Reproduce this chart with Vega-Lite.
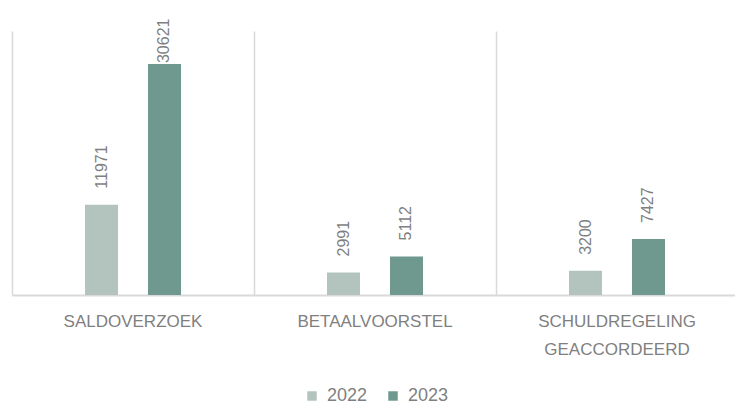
{
  "$schema": "https://vega.github.io/schema/vega-lite/v6.json",
  "autosize": "none",
  "width": 726,
  "height": 264,
  "padding": {"left": 12, "top": 31, "right": 0, "bottom": 112},
  "background": "white",
  "config": {
    "view": {"stroke": null},
    "font": "Liberation Sans"
  },
  "data": {
    "values": [
      {"categorie": "SALDOVERZOEK", "jaar": "2022", "aantal": 11971},
      {"categorie": "SALDOVERZOEK", "jaar": "2023", "aantal": 30621},
      {"categorie": "BETAALVOORSTEL", "jaar": "2022", "aantal": 2991},
      {"categorie": "BETAALVOORSTEL", "jaar": "2023", "aantal": 5112},
      {"categorie": "SCHULDREGELING GEACCORDEERD", "jaar": "2022", "aantal": 3200},
      {"categorie": "SCHULDREGELING GEACCORDEERD", "jaar": "2023", "aantal": 7427}
    ]
  },
  "encoding": {
    "x": {
      "field": "categorie",
      "type": "nominal",
      "sort": null,
      "scale": {"paddingInner": 0, "paddingOuter": 0},
      "axis": {
        "title": null,
        "ticks": false,
        "grid": true,
        "gridColor": "#d9d9d9",
        "gridWidth": 1.5,
        "bandPosition": 0,
        "domainColor": "#d9d9d9",
        "domainWidth": 2,
        "labelAngle": 0,
        "labelFontSize": 17,
        "labelColor": "#7f7f7f",
        "labelPadding": 18,
        "labelLineHeight": 28,
        "labelExpr": "split(datum.label, ' ')"
      }
    },
    "xOffset": {
      "field": "jaar",
      "type": "nominal",
      "scale": {"range": [73, 169], "paddingInner": 0.476, "paddingOuter": 0}
    },
    "y": {
      "field": "aantal",
      "type": "quantitative",
      "scale": {"domain": [0, 35000]},
      "axis": null
    }
  },
  "layer": [
    {
      "mark": {"type": "bar"},
      "encoding": {
        "color": {
          "field": "jaar",
          "type": "nominal",
          "scale": {"range": ["#b3c3be", "#6f998f"]},
          "legend": {
            "title": null,
            "orient": "none",
            "direction": "horizontal",
            "legendX": 291,
            "legendY": 356,
            "symbolType": "square",
            "symbolSize": 90,
            "symbolStrokeWidth": 0,
            "symbolOpacity": 1,
            "labelFontSize": 18,
            "labelColor": "#7f7f7f",
            "labelOffset": 6,
            "columnPadding": 16
          }
        }
      }
    },
    {
      "transform": [{"filter": "datum.aantal < 30000"}],
      "mark": {"type": "text", "angle": 270, "align": "left", "baseline": "middle", "dx": 16, "fontSize": 16, "color": "#7f7f7f"},
      "encoding": {"text": {"field": "aantal", "type": "quantitative", "format": "d"}}
    },
    {
      "transform": [{"filter": "datum.aantal >= 30000"}],
      "mark": {"type": "text", "angle": 270, "align": "left", "baseline": "middle", "dx": 1, "fontSize": 16, "color": "#7f7f7f"},
      "encoding": {"text": {"field": "aantal", "type": "quantitative", "format": "d"}}
    }
  ]
}
